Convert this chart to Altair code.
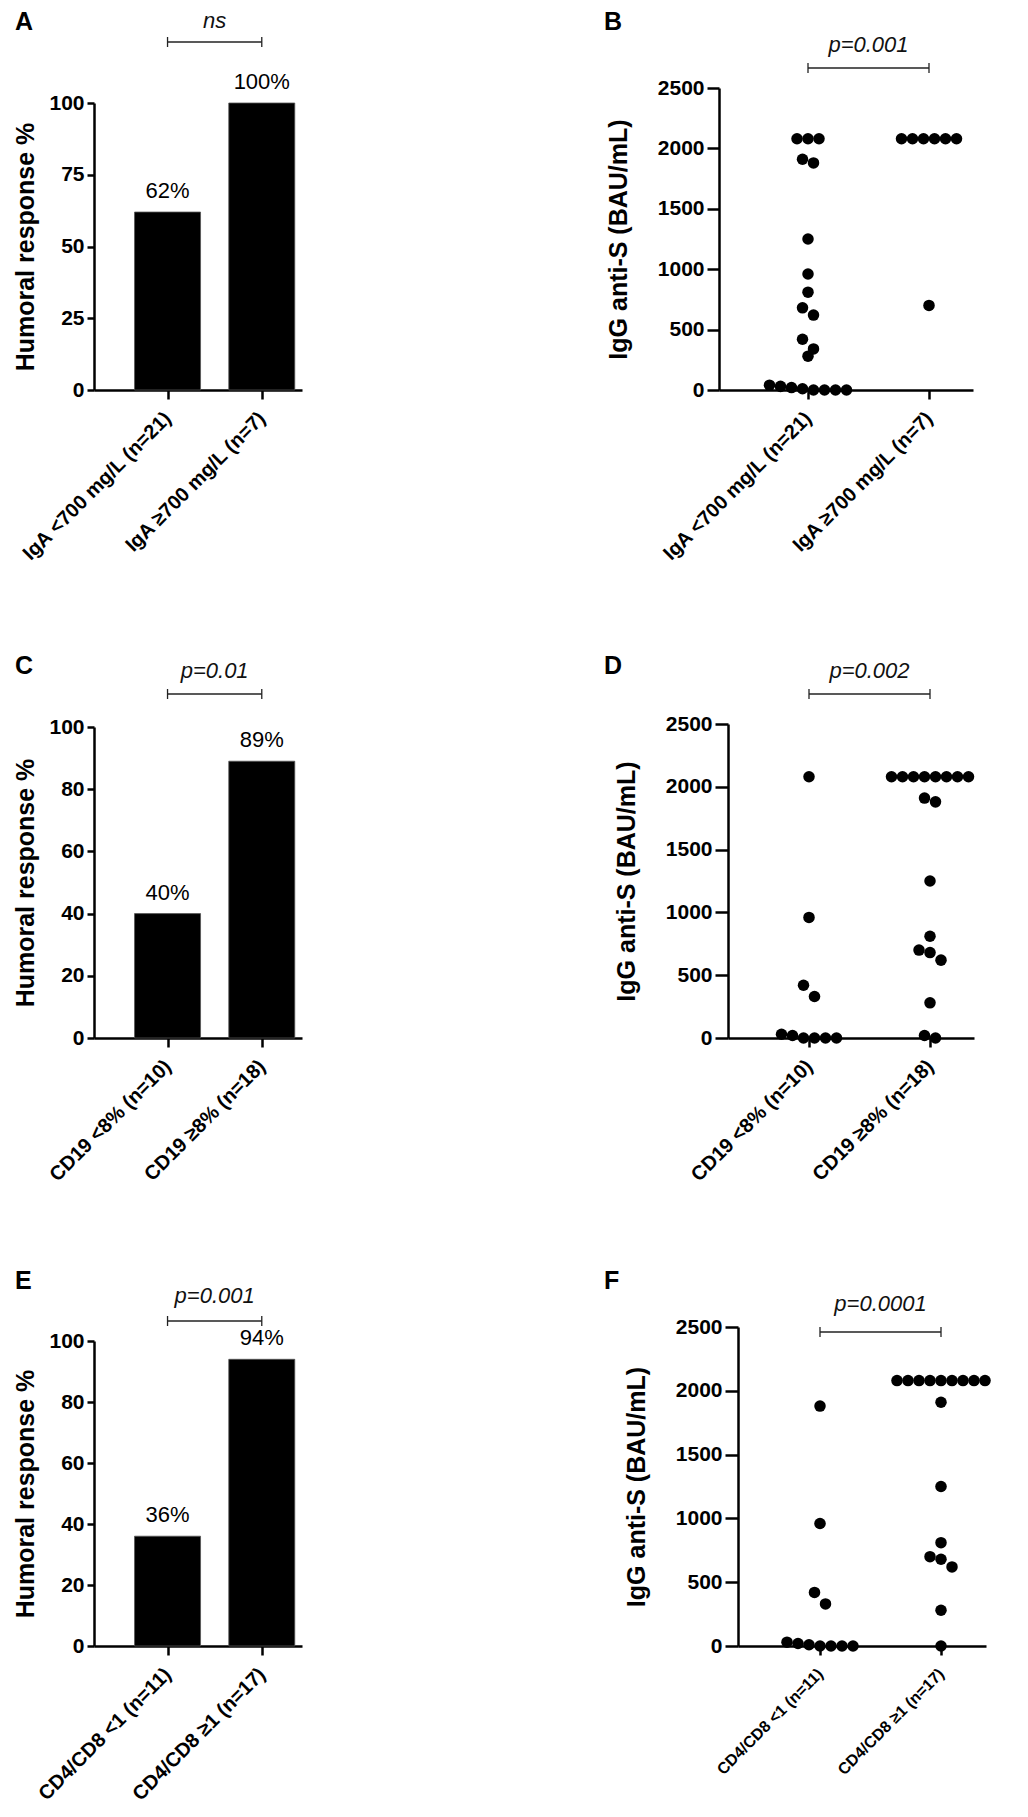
import altair as alt
import pandas as pd

FONT = "Liberation Sans"

# ---------------- data ----------------
groups_A = ["IgA <700 mg/L (n=21)", "IgA ≥700 mg/L (n=7)"]
response_A = [62, 100]
groups_C = ["CD19 <8% (n=10)", "CD19 ≥8% (n=18)"]
response_C = [40, 89]
groups_E = ["CD4/CD8 <1 (n=11)", "CD4/CD8 ≥1 (n=17)"]
response_E = [36, 94]

igg_B_low = [2080, 2080, 2080, 1910, 1880, 1250, 960, 810, 680, 620, 420, 340, 280,
             40, 30, 20, 10, 0, 0, 0, 0]
igg_B_high = [2080, 2080, 2080, 2080, 2080, 2080, 700]
igg_D_low = [2080, 960, 420, 330, 30, 20, 0, 0, 0, 0]
igg_D_high = [2080, 2080, 2080, 2080, 2080, 2080, 2080, 2080, 1910, 1880, 1250, 810,
              700, 680, 620, 280, 20, 0]
igg_F_low = [1880, 960, 420, 330, 30, 20, 10, 0, 0, 0, 0]
igg_F_high = [2080, 2080, 2080, 2080, 2080, 2080, 2080, 2080, 2080, 1910, 1250, 810,
              700, 680, 620, 280, 0]

pct_ticks_A = [0, 25, 50, 75, 100]
pct_ticks_CE = [0, 20, 40, 60, 80, 100]
igg_ticks = [0, 500, 1000, 1500, 2000, 2500]

p_text = {"A": "ns", "B": "p=0.001", "C": "p=0.01", "D": "p=0.002", "E": "p=0.001", "F": "p=0.0001"}

# ---------------- layout (pixels) ----------------
LEFT = dict(W=208, x0=0, x1=208, c0=72, step=99, tick=7, ylab=21, xlab=20, xlpad=16, tpad=10, lx=-79)
RIGHT = dict(W=267, c0=89, step=121, tick=13, ylab=21, xlab=20, xlpad=16, tpad=26, lx=-115)
G = {
    "A": dict(LEFT, H=302, top=15, bracket=-46, ptext=-60, ly=-58),
    "B": dict(RIGHT, H=302, top=0, x0=0, x1=254, c0=89, tick=12, bracket=-20, ptext=-36, ly=-58),
    "C": dict(LEFT, H=359, top=48, bracket=15, ptext=-1, ly=-5),
    "D": dict(RIGHT, H=359, top=45, x0=9, x1=255, c0=90, bracket=15, ptext=-1, ly=-5),
    "E": dict(LEFT, H=319, top=14, bracket=-6, ptext=-24, ly=-38),
    "F": dict(RIGHT, H=319, top=0, x0=19, x1=267, c0=101, bracket=5, ptext=-16, ly=-38, xlab=16),
}
DOT_D = 13
DOT_SPACING = 11


def x_scale(g):
    s, c = g["step"], g["c0"]
    return alt.Scale(domain=[(g["x0"] - c) / s, (g["x1"] - c) / s],
                     range=[g["x0"], g["x1"]], nice=False, zero=False)


def y_scale(g, ymax):
    return alt.Scale(domain=[0, ymax], range=[g["H"], g["top"]], nice=False, zero=True)


def x_axis(g, labels):
    expr = f"datum.value == 0 ? '{labels[0]}' : '{labels[1]}'"
    return alt.Axis(values=[0, 1], labelExpr=expr, labelAngle=-45, labelAlign="right",
                    labelBaseline="middle", labelPadding=g["xlpad"], labelFontSize=g["xlab"],
                    labelFontWeight="bold", labelFont=FONT, labelColor="black", labelLimit=500,
                    tickSize=9, tickWidth=2.5, tickColor="black", domainWidth=2.5,
                    domainColor="black", title=None, grid=False, labelOverlap=False,
                    labelFlush=False)


def y_axis(g, ticks, title):
    return alt.Axis(values=ticks, format="d", title=title, titleFont=FONT, titleFontSize=25,
                    titleFontWeight="bold", titleColor="black", titlePadding=g["tpad"],
                    labelFont=FONT, labelFontSize=g["ylab"], labelFontWeight="bold",
                    labelColor="black", labelPadding=3, tickSize=g["tick"], tickWidth=2.5,
                    tickColor="black", domainWidth=2.5, domainColor="black", grid=False,
                    offset=-g["x0"], labelFlush=False)


def annotations(key, g, X):
    br = pd.DataFrame({"idx": [0], "idx2": [1]})
    hline = alt.Chart(br).mark_rule(color="#222", strokeWidth=1.3).encode(
        x=X, x2="idx2:Q", y=alt.value(g["bracket"]))
    ends = alt.Chart(pd.DataFrame({"idx": [0, 1]})).mark_rule(color="#222", strokeWidth=1.3).encode(
        x=X, y=alt.value(g["bracket"] - 5), y2=alt.value(g["bracket"] + 5))
    mid = pd.DataFrame({"idx": [sum([0, 1]) / 2], "t": [p_text[key]]})
    ptx = alt.Chart(mid).mark_text(font=FONT, fontSize=22, fontStyle="italic", color="#111",
                                   baseline="alphabetic").encode(
        x=X, y=alt.value(g["ptext"]), text="t:N")
    let = alt.Chart(pd.DataFrame({"k": [key]})).mark_text(
        font=FONT, fontSize=25, fontWeight="bold", align="left", baseline="alphabetic",
        color="black").encode(x=alt.value(g["lx"]), y=alt.value(g["ly"]), text="k:N")
    return [hline, ends, ptx, let]


def bar_panel(key, labels, values, ticks):
    g = G[key]
    df = pd.DataFrame({"idx": list(range(len(values))), "val": values,
                       "lab": [f"{v}%" for v in values]})
    X = alt.X("idx:Q", scale=x_scale(g), axis=x_axis(g, labels))
    Y = alt.Y("val:Q", scale=y_scale(g, ticks[-1]), axis=y_axis(g, ticks, "Humoral response %"))
    bars = alt.Chart(df).mark_bar(color="black", size=66, stroke="#555", strokeWidth=0.8).encode(
        x=X, y=Y)
    txt = alt.Chart(df).mark_text(font=FONT, fontSize=22, dy=-14, baseline="alphabetic",
                                  color="black").encode(x=X, y=Y, text="lab:N")
    return alt.layer(bars, txt, *annotations(key, g, X)).properties(width=g["W"], height=g["H"])


def swarm_offsets(values, g, ymax):
    ppu = (g["H"] - g["top"]) / ymax
    order = sorted(range(len(values)), key=lambda i: -values[i])
    clusters = []
    for i in order:
        if clusters and (values[clusters[-1][0]] - values[i]) * ppu < DOT_D:
            clusters[-1].append(i)
        else:
            clusters.append([i])
    off = [0.0] * len(values)
    for c in clusters:
        k = len(c)
        for j, i in enumerate(c):
            off[i] = (j - (k - 1) / 2) * DOT_SPACING
    return off


def dot_panel(key, labels, low, high):
    g = G[key]
    ymax = igg_ticks[-1]
    rows = []
    for gi, vals in enumerate([low, high]):
        offs = swarm_offsets(vals, g, ymax)
        for v, o in zip(vals, offs):
            rows.append({"val": v, "idx": gi + o / g["step"]})
    df = pd.DataFrame(rows)
    X = alt.X("idx:Q", scale=x_scale(g), axis=x_axis(g, labels))
    Y = alt.Y("val:Q", scale=y_scale(g, ymax), axis=y_axis(g, igg_ticks, "IgG anti-S (BAU/mL)"))
    pts = alt.Chart(df).mark_circle(size=3.1416 * (DOT_D / 2) ** 2, color="black", opacity=1).encode(
        x=X, y=Y)
    return alt.layer(pts, *annotations(key, g, X)).properties(width=g["W"], height=g["H"])


A = bar_panel("A", groups_A, response_A, pct_ticks_A)
B = dot_panel("B", groups_A, igg_B_low, igg_B_high)
C = bar_panel("C", groups_C, response_C, pct_ticks_CE)
D = dot_panel("D", groups_C, igg_D_low, igg_D_high)
E = bar_panel("E", groups_E, response_E, pct_ticks_CE)
F = dot_panel("F", groups_E, igg_F_low, igg_F_high)

chart = alt.concat(A, B, C, D, E, F, columns=2,
                   spacing={"row": 289, "column": 417}).properties(
    bounds="flush", background="white",
    padding={"left": 5, "top": 2, "right": 5, "bottom": 5}
).configure_view(stroke="transparent", strokeWidth=0)

chart.save("out.html", embed_options={"renderer": "svg", "actions": False})
